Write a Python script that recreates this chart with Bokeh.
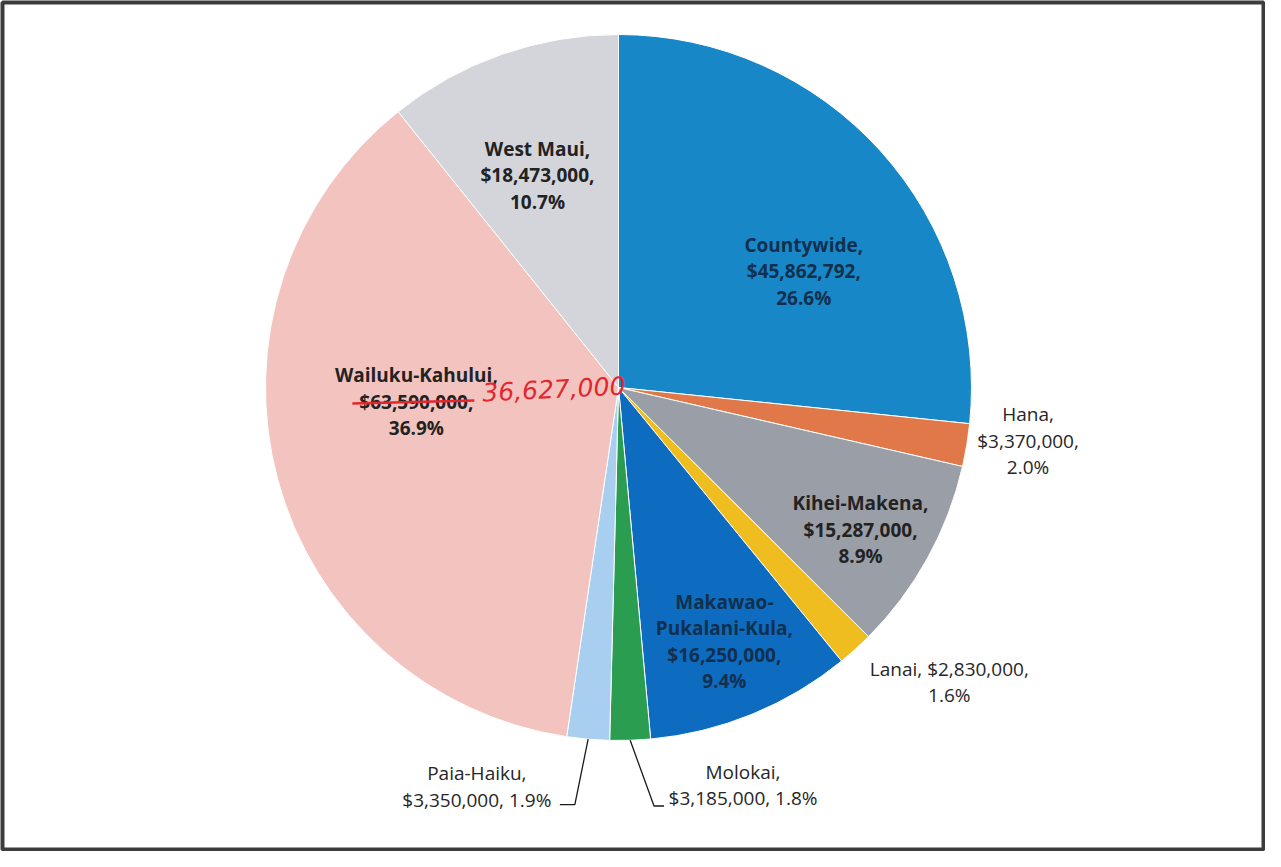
import math
from bokeh.plotting import figure
from bokeh.models import Range1d, ColumnDataSource
from bokeh.core.properties import value
from bokeh.embed import file_html
from bokeh.resources import INLINE

# ---------------- data ----------------
regions = ["Countywide", "Hana", "Kihei-Makena", "Lanai", "Makawao-Pukalani-Kula",
           "Molokai", "Paia-Haiku", "Wailuku-Kahului", "West Maui"]
amounts = [45862792, 3370000, 15287000, 2830000, 16250000,
           3185000, 3350000, 63590000, 18473000]
pct_labels = ["26.6%", "2.0%", "8.9%", "1.6%", "9.4%", "1.8%", "1.9%", "36.9%", "10.7%"]
correction_text = "36,627,000"
correction_index = 7

# ---------------- styles / layout ----------------
colors = ["#1787c8", "#e0784a", "#9a9ea6", "#efbd1f", "#0d6bc0",
          "#2a9d50", "#a8cff0", "#f3c4bf", "#d3d5da"]
text_colors = ["#12304d", "#262626", "#222222", "#262626", "#12304d",
               "#262626", "#262626", "#222222", "#222222"]
bold = [True, False, True, False, True, False, False, True, True]
# label line pattern: "3" name/amount/pct, "2a" "name, amount,"/pct, "2b" name/"amount, pct"
patterns = ["3", "3", "3", "2a", "4", "2b", "2b", "3", "3"]
# label placement: (radius fraction, angle nudge in degrees from mid-angle)
place = [(0.62, -9.9), (1.17, 2.0), (0.795, -1.5), (1.255, 6.15), (0.78, 0.4),
         (1.18, 15.5), (1.2, -14.6), (0.574, -11.1), (0.643, 1.6)]

W, H = 1265, 851
MB = 2
CX, CY, R = 626.0, -395.0, 353.0
LS = 26.5
FONT = "Open Sans"
FS = "19px"

total = float(sum(amounts))
fracs = [a / total for a in amounts]
cum = [0.0]
for f in fracs:
    cum.append(cum[-1] + f)
starts = [math.pi / 2 - 2 * math.pi * c for c in cum[:-1]]
ends = [math.pi / 2 - 2 * math.pi * c for c in cum[1:]]
mids = [(s + e) / 2 for s, e in zip(starts, ends)]

p = figure(width=W, height=H, output_backend="svg", toolbar_location=None,
           x_range=Range1d(8 + MB, 8 + W - MB), y_range=Range1d(-(8 + H - MB), -(8 + MB)),
           x_axis_type=None, y_axis_type=None, min_border=MB)
p.grid.visible = False
p.background_fill_color = "white"
p.border_fill_color = "white"
p.outline_line_color = "#3c3c3c"
p.outline_line_width = 4

src = ColumnDataSource(dict(start=starts, end=ends, color=colors, region=regions))
p.wedge(x=CX, y=CY, radius=R, start_angle="start", end_angle="end", direction="clock",
        fill_color="color", line_color="white", line_width=1, source=src)


def money(a):
    return "${:,}".format(a)


label_pos = []
for i, reg in enumerate(regions):
    f, nudge = place[i]
    ang = mids[i] + math.radians(nudge)
    lx = CX + f * R * math.cos(ang)
    ly = CY + f * R * math.sin(ang)
    label_pos.append((lx, ly))
    pat = patterns[i]
    if pat == "3":
        lines = [reg + ",", money(amounts[i]) + ",", pct_labels[i]]
    elif pat == "4":
        a, b = reg.split("-", 1)
        lines = [a + "-", b + ",", money(amounts[i]) + ",", pct_labels[i]]
    elif pat == "2a":
        lines = [reg + ", " + money(amounts[i]) + ",", pct_labels[i]]
    else:
        lines = [reg + ",", money(amounts[i]) + ", " + pct_labels[i]]
    n = len(lines)
    ys = [ly + (n - 1) / 2 * LS - k * LS for k in range(n)]
    p.text(x=[lx] * n, y=ys, text=lines, text_align="center", text_baseline="middle",
           text_font=value(FONT), text_font_size=FS, text_color=text_colors[i],
           text_font_style="bold" if bold[i] else "normal")

# leader lines for the two small bottom slices
leader_offsets = {6: [(98, -18), (83, -18)], 5: [(-89, -21), (-79, -21)]}
for i, offs in leader_offsets.items():
    sx = CX + R * math.cos(mids[i])
    sy = CY + R * math.sin(mids[i])
    lx, ly = label_pos[i]
    xs = [sx] + [lx + dx for dx, dy in offs]
    ys = [sy] + [ly + dy for dx, dy in offs]
    p.line(xs, ys, line_color="#1a1a1a", line_width=1.3)

# handwritten correction on the Wailuku-Kahului label
lx, ly = label_pos[correction_index]
p.line([lx - 64, lx + 58], [ly - 2, ly + 1], line_color="#e3262e", line_width=2.5)
p.text(x=[lx + 66], y=[ly + 9], text=[correction_text], text_align="left",
       text_baseline="middle", text_font=value("DejaVu Sans"), text_font_size="25px",
       text_font_style="italic", text_color="#e3262e", angle=0.05)

open("out.html", "w").write(file_html(p, INLINE))
